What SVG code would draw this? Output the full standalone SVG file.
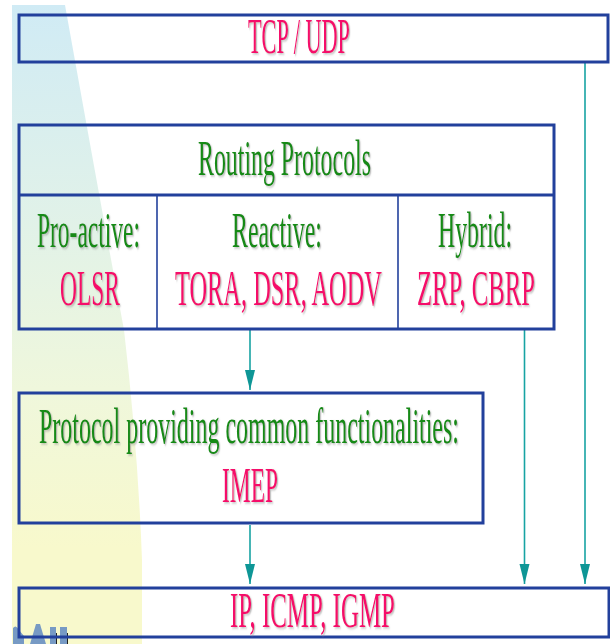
<svg xmlns="http://www.w3.org/2000/svg" width="610" height="644" viewBox="0 0 610 644">
  <defs>
    <linearGradient id="bgGrad" x1="0" y1="5" x2="0" y2="644" gradientUnits="userSpaceOnUse">
      <stop offset="0" stop-color="#d0ebf5"/>
      <stop offset="0.3" stop-color="#dff1ea"/>
      <stop offset="0.6" stop-color="#eff7dc"/>
      <stop offset="0.85" stop-color="#f8f9cc"/>
      <stop offset="1" stop-color="#f8f9cc"/>
    </linearGradient>
    <filter id="shadow" x="-5%" y="-20%" width="110%" height="140%">
      <feDropShadow dx="1.2" dy="0.7" stdDeviation="0.5" flood-color="#888" flood-opacity="0.55"/>
    </filter>
    <marker id="arrow" markerUnits="userSpaceOnUse" markerWidth="22" markerHeight="12" refX="20" refY="0" viewBox="0 -6 22 12" orient="auto">
      <path d="M0,-5 L20,0 L0,5 Z" fill="#0e9696"/>
    </marker>
    <style>
      .box { fill: none; stroke: #22409c; stroke-width: 3; }
      .div { fill: none; stroke: #22409c; stroke-width: 1.6; }
      .t { font-family: "Liberation Serif", "DejaVu Serif", serif; font-size: 24px; filter: url(#shadow); }
      .g { fill: #168a16; }
      .p { fill: #f5106a; }
      .conn { fill: none; stroke: #17a3a3; stroke-width: 1.6; marker-end: url(#arrow); }
    </style>
  </defs>

  <rect x="0" y="0" width="610" height="644" fill="#ffffff"/>
  <path d="M12,5 L65,5 Q100,200 124,330 Q138,450 142,560 L142,644 L12,644 Z" fill="url(#bgGrad)"/>
  <g id="logo-fragment" fill="#6a90c4" opacity="0.9">
    <path d="M13,644 L13,628 Q16,624 19,630 L24,636 L24,644 Z"/>
    <path d="M30,644 L36,624 L40,624 L46,644 Z"/>
    <path d="M50,644 L50,627 L56,627 L56,644 Z M60,644 L60,627 L67,627 L67,644 Z"/>
  </g>
  <g id="logo-lines" stroke="#222" stroke-width="1">
    <line x1="56.5" y1="633" x2="56.5" y2="644"/>
    <line x1="67.5" y1="633" x2="67.5" y2="644"/>
  </g>

  <g id="connectors">
    <line class="conn" x1="585" y1="62" x2="585" y2="584"/>
    <line class="conn" x1="250" y1="330" x2="250" y2="390"/>
    <line class="conn" x1="524.5" y1="330" x2="524.5" y2="584"/>
    <line class="conn" x1="250" y1="525" x2="250" y2="584"/>
  </g>

  <g id="tcp-udp">
    <rect class="box" x="19" y="15" width="589" height="47"/>
    <text class="t p" x="248" y="53" transform="matrix(1 0 0 2.08 0 -57.24)" textLength="102" lengthAdjust="spacingAndGlyphs">TCP / UDP</text>
  </g>

  <g id="routing-protocols">
    <rect class="box" x="19" y="125" width="535" height="204"/>
    <line class="box" x1="19" y1="195" x2="554" y2="195"/>
    <text class="t g" x="198" y="175" transform="matrix(1 0 0 2.08 0 -189)" textLength="173" lengthAdjust="spacingAndGlyphs">Routing Protocols</text>
  </g>

  <g id="proactive">
    <line class="div" x1="157" y1="195" x2="157" y2="329"/>
    <text class="t g" x="37" y="247" transform="matrix(1 0 0 2.08 0 -266.76)" textLength="103" lengthAdjust="spacingAndGlyphs">Pro-active:</text>
    <text class="t p" x="60" y="305" transform="matrix(1 0 0 2.08 0 -329.4)" textLength="60" lengthAdjust="spacingAndGlyphs">OLSR</text>
  </g>

  <g id="reactive">
    <text class="t g" x="232" y="247" transform="matrix(1 0 0 2.08 0 -266.76)" textLength="90" lengthAdjust="spacingAndGlyphs">Reactive:</text>
    <text class="t p" x="175" y="305" transform="matrix(1 0 0 2.08 0 -329.4)" textLength="207" lengthAdjust="spacingAndGlyphs">TORA, DSR, AODV</text>
  </g>

  <g id="hybrid">
    <line class="div" x1="398" y1="195" x2="398" y2="329"/>
    <text class="t g" x="438" y="247" transform="matrix(1 0 0 2.08 0 -266.76)" textLength="74" lengthAdjust="spacingAndGlyphs">Hybrid:</text>
    <text class="t p" x="417" y="305" transform="matrix(1 0 0 2.08 0 -329.4)" textLength="118" lengthAdjust="spacingAndGlyphs">ZRP, CBRP</text>
  </g>

  <g id="imep">
    <rect class="box" x="19" y="393" width="464" height="130"/>
    <text class="t g" x="39" y="443" transform="matrix(1 0 0 2.08 0 -478.44)" textLength="420" lengthAdjust="spacingAndGlyphs">Protocol providing common functionalities:</text>
    <text class="t p" x="222" y="502" transform="matrix(1 0 0 2.08 0 -542.16)" textLength="56" lengthAdjust="spacingAndGlyphs">IMEP</text>
  </g>

  <g id="ip-icmp-igmp">
    <rect class="box" x="19" y="588" width="590" height="49"/>
    <text class="t p" x="230" y="627" transform="matrix(1 0 0 2.08 0 -677.16)" textLength="165" lengthAdjust="spacingAndGlyphs">IP, ICMP, IGMP</text>
  </g>
</svg>
